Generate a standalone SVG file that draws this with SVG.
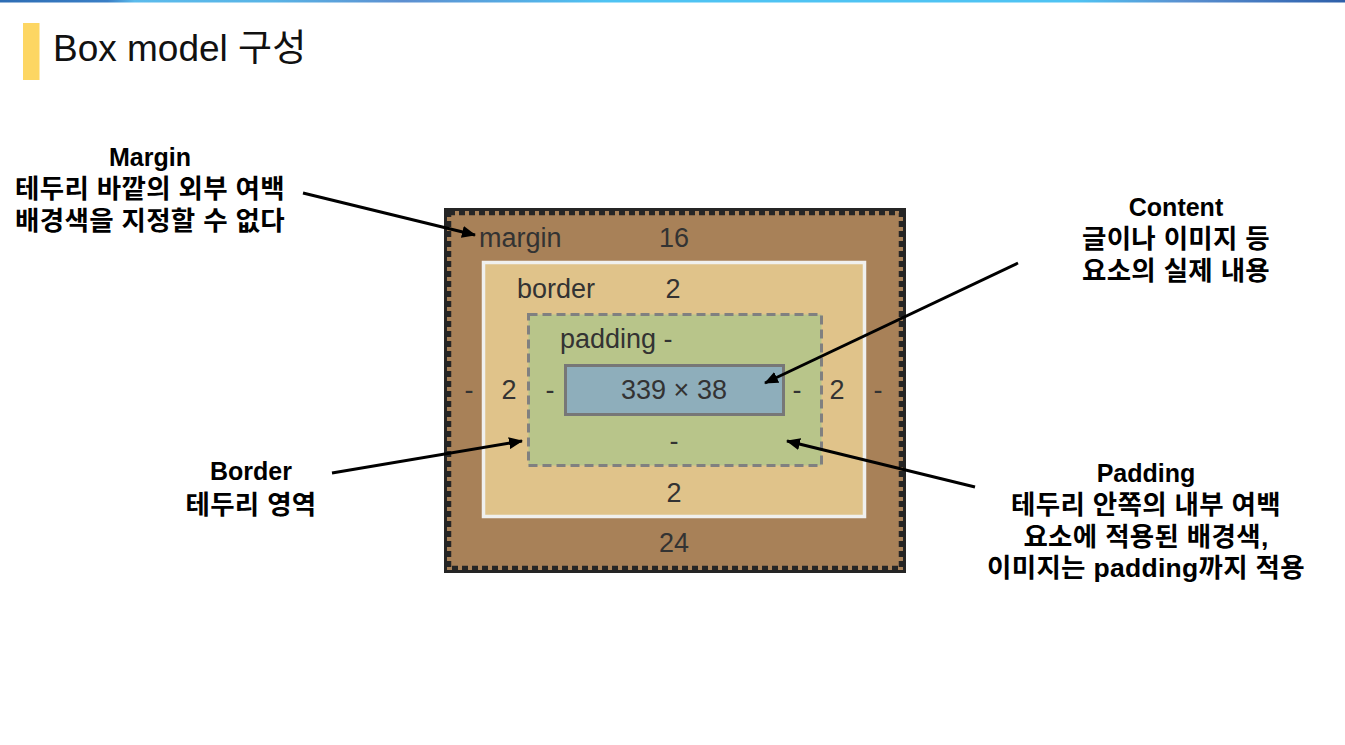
<svg xmlns="http://www.w3.org/2000/svg" width="1345" height="745" viewBox="0 0 1345 745">
<defs>
<linearGradient id="topbar" x1="0" y1="0" x2="1" y2="0">
<stop offset="0" stop-color="#2e6db4"/>
<stop offset="0.08" stop-color="#3a7fc6"/>
<stop offset="0.1" stop-color="#5bbbec"/>
<stop offset="0.2" stop-color="#58b4e6"/>
<stop offset="0.3" stop-color="#5d8fd0"/>
<stop offset="0.45" stop-color="#4fc3f3"/>
<stop offset="0.8" stop-color="#4fc3f3"/>
<stop offset="0.88" stop-color="#5a90d0"/>
<stop offset="0.96" stop-color="#3b6fb8"/>
<stop offset="1" stop-color="#2e5fa8"/>
</linearGradient>
<marker id="arrow" markerUnits="userSpaceOnUse" markerWidth="14" markerHeight="12" refX="13" refY="6" orient="auto">
<path d="M0,0 L14,6 L0,12 z" fill="#000"/>
</marker>
<style>
.box{font-family:"Liberation Sans","Noto Sans",sans-serif;font-size:27px;fill:#333}
.lbl{font-family:"Liberation Sans","Noto Sans CJK KR",sans-serif;font-size:25px;font-weight:bold;fill:#000;text-anchor:middle}
.ko{font-size:26.5px;letter-spacing:0.3px}
.mid{text-anchor:middle}
.conn{stroke:#000;stroke-width:3;fill:none;marker-end:url(#arrow)}
</style>
</defs>
<rect x="0" y="0" width="1345" height="745" fill="#fff"/>
<rect x="0" y="0" width="1345" height="2.5" fill="url(#topbar)"/>
<g id="title">
<rect x="23" y="23" width="16.5" height="57" fill="#fdd663"/>
<text x="53" y="61" font-family="Liberation Sans, Noto Sans CJK KR, sans-serif" font-size="37" fill="#111">Box model 구성</text>
</g>
<g id="margin-box">
<rect x="445.5" y="209.5" width="459" height="362" fill="#a88158" stroke="#252525" stroke-width="3"/>
<rect x="449" y="213" width="452" height="355" fill="none" stroke="#252525" stroke-width="4.5" stroke-dasharray="6 4"/>
<text class="box" x="479" y="247">margin</text>
<text class="box mid" x="674" y="247">16</text>
<text class="box mid" x="469" y="399">-</text>
<text class="box mid" x="878" y="399">-</text>
<text class="box mid" x="674" y="552">24</text>
</g>
<g id="border-box">
<rect x="483.5" y="262.5" width="381" height="254" fill="#e0c38a" stroke="#f0f0ee" stroke-width="3.5"/>
<text class="box" x="517" y="298">border</text>
<text class="box mid" x="673" y="298">2</text>
<text class="box mid" x="509" y="399">2</text>
<text class="box mid" x="837" y="399">2</text>
<text class="box mid" x="674" y="502">2</text>
</g>
<g id="padding-box">
<rect x="528.5" y="314.5" width="293" height="151" fill="#b8c58a" stroke="#808080" stroke-width="3" stroke-dasharray="9 5"/>
<text class="box" x="560" y="348">padding -</text>
<text class="box mid" x="550" y="399">-</text>
<text class="box mid" x="797" y="399">-</text>
<text class="box mid" x="674" y="450">-</text>
</g>
<g id="content-box">
<rect x="565.5" y="365.5" width="218" height="49" fill="#8eaebb" stroke="#777" stroke-width="3"/>
<text class="box mid" x="674" y="399">339 × 38</text>
</g>
<g id="label-margin">
<text class="lbl" x="150" y="166">Margin</text>
<text class="lbl ko" x="150" y="198">테두리 바깥의 외부 여백</text>
<text class="lbl ko" x="150" y="230">배경색을 지정할 수 없다</text>
</g>
<g id="label-content">
<text class="lbl" x="1176" y="216">Content</text>
<text class="lbl ko" x="1176" y="248">글이나 이미지 등</text>
<text class="lbl ko" x="1176" y="280">요소의 실제 내용</text>
</g>
<g id="label-border">
<text class="lbl" x="251" y="480">Border</text>
<text class="lbl ko" x="251" y="514">테두리 영역</text>
</g>
<g id="label-padding">
<text class="lbl" x="1146" y="482">Padding</text>
<text class="lbl ko" x="1146" y="514">테두리 안쪽의 내부 여백</text>
<text class="lbl ko" x="1146" y="546">요소에 적용된 배경색,</text>
<text class="lbl ko" x="1146" y="577">이미지는 padding까지 적용</text>
</g>
<g id="connectors">
<line class="conn" x1="303" y1="193" x2="475" y2="235"/>
<line class="conn" x1="1018" y1="263" x2="765" y2="383"/>
<line class="conn" x1="332" y1="473" x2="522" y2="441"/>
<line class="conn" x1="975" y1="487" x2="787" y2="441"/>
</g>
</svg>
